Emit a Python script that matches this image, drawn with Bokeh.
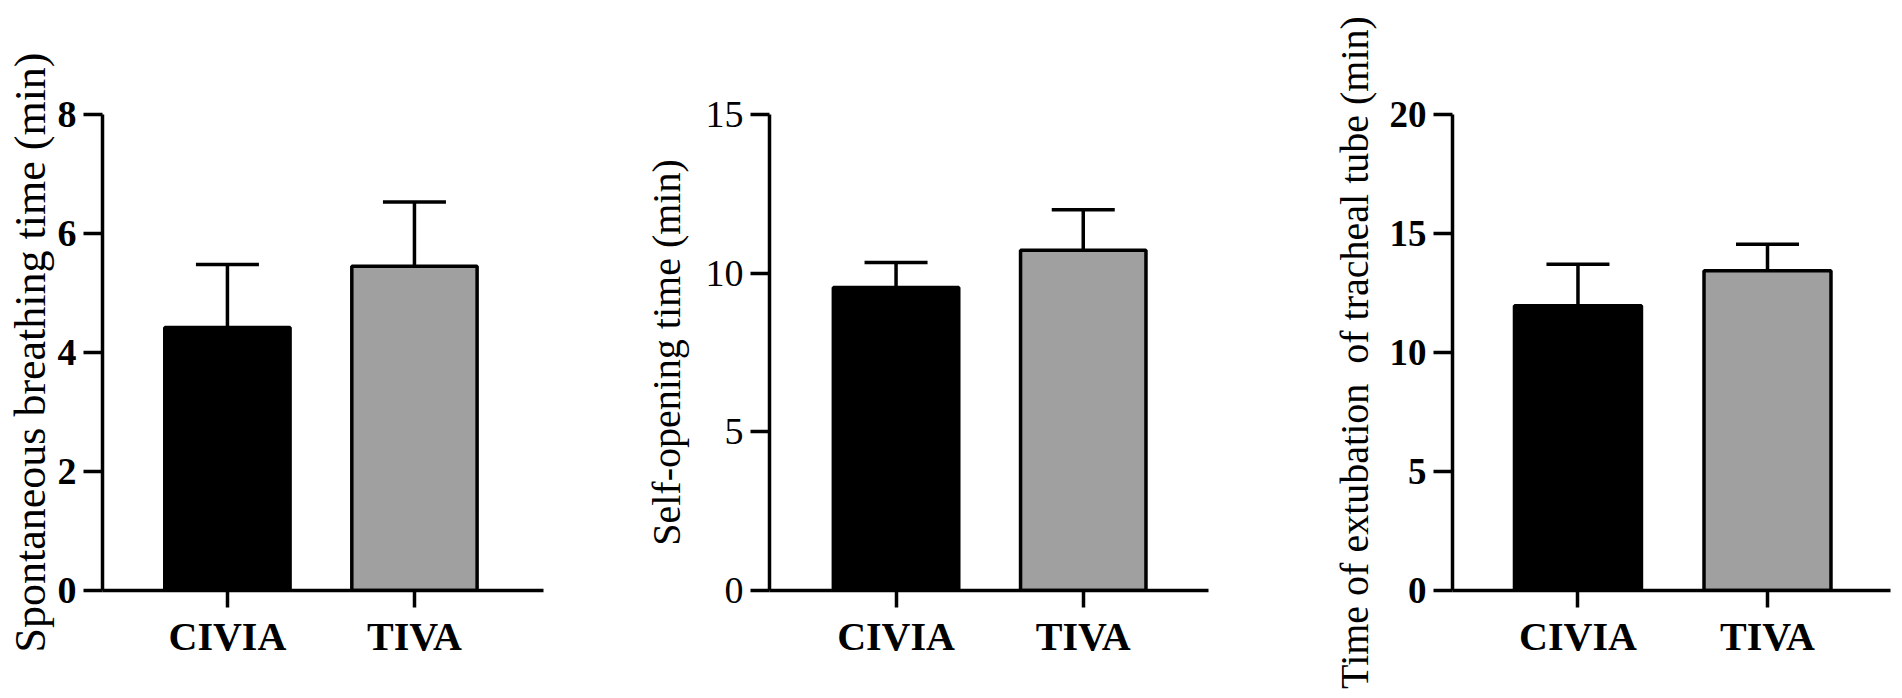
from bokeh.plotting import figure
from bokeh.layouts import row
from bokeh.models import Range1d, FixedTicker, ColumnDataSource, Whisker, TeeHead
from bokeh.embed import file_html
from bokeh.resources import INLINE

# ---- data ----
groups = ["CIVIA", "TIVA"]
bar_colors = ["#000000", "#a0a0a0"]

breath_mean = [4.42, 5.45]
breath_sd = [1.06, 1.08]

open_mean = [9.55, 10.72]
open_sd = [0.79, 1.28]

extub_mean = [11.96, 13.44]
extub_sd = [1.75, 1.11]

panels = [
    dict(mean=breath_mean, sd=breath_sd, ymax=8, yticks=[0, 2, 4, 6, 8],
         label="Spontaneous breathing time (min)", label_size="44px",
         tick_size="38px", tick_style="bold",
         width=640, bl=102, br=97, xr=(0.332, 2.690), lstand=0),
    dict(mean=open_mean, sd=open_sd, ymax=15, yticks=[0, 5, 10, 15],
         label="Self-opening time (min)", label_size="40px",
         tick_size="38px", tick_style="normal",
         width=660, bl=129, br=92, xr=(0.324, 2.669), lstand=14),
    dict(mean=extub_mean, sd=extub_sd, ymax=20, yticks=[0, 5, 10, 15, 20],
         label="Time of extubation \u00a0of tracheal tube (min)", label_size="40px",
         tick_size="37px", tick_style="bold",
         width=594, bl=152, br=4, xr=(0.338, 2.649), lstand=10),
]

FONT = "Liberation Serif"
figs = []
for pn in panels:
    xs = [1, 2]
    top = [m + s for m, s in zip(pn["mean"], pn["sd"])]
    src = ColumnDataSource(dict(x=xs, mean=pn["mean"], top=top, color=bar_colors))
    p = figure(width=pn["width"], height=690, output_backend="svg", toolbar_location=None,
               x_range=Range1d(*pn["xr"]), y_range=Range1d(0, pn["ymax"]),
               min_border_left=pn["bl"], min_border_right=pn["br"],
               min_border_top=114, min_border_bottom=100)
    p.outline_line_color = None
    p.xgrid.visible = False
    p.ygrid.visible = False
    p.background_fill_color = "white"
    p.border_fill_color = "white"

    p.vbar(x="x", top="mean", bottom=0, width=0.67, source=src,
           fill_color="color", line_color="black", line_width=3.5)
    w = Whisker(base="x", lower="mean", upper="top", source=src, dimension="height",
                line_color="black", line_width=3.5,
                upper_head=TeeHead(size=63, line_color="black", line_width=3.5),
                lower_head=None)
    p.add_layout(w)

    # x axis
    p.xaxis.ticker = FixedTicker(ticks=xs)
    p.xaxis.major_label_overrides = {1: groups[0], 2: groups[1]}
    p.xaxis.major_label_text_font = FONT
    p.xaxis.major_label_text_font_style = "bold"
    p.xaxis.major_label_text_font_size = "40px"
    p.xaxis.major_label_text_color = "black"
    p.xaxis.major_label_standoff = 6
    p.xaxis.major_tick_out = 17
    p.xaxis.major_tick_in = 0
    p.xaxis.minor_tick_line_color = None

    # y axis
    p.yaxis.ticker = FixedTicker(ticks=pn["yticks"])
    p.yaxis.major_label_text_font = FONT
    p.yaxis.major_label_text_font_style = pn["tick_style"]
    p.yaxis.major_label_text_font_size = pn["tick_size"]
    p.yaxis.major_label_text_color = "black"
    p.yaxis.major_label_standoff = 7
    p.yaxis.major_tick_out = 19
    p.yaxis.major_tick_in = 0
    p.yaxis.minor_tick_line_color = None
    p.yaxis.axis_label = pn["label"]
    p.yaxis.axis_label_text_font = FONT
    p.yaxis.axis_label_text_font_style = "normal"
    p.yaxis.axis_label_text_font_size = pn["label_size"]
    p.yaxis.axis_label_text_color = "black"
    p.yaxis.axis_label_standoff = pn["lstand"]

    for ax in (p.xaxis, p.yaxis):
        ax.axis_line_width = 3.5
        ax.axis_line_color = "black"
        ax.major_tick_line_width = 3.5
        ax.major_tick_line_color = "black"
    figs.append(p)

layout = row(*figs, spacing=0)
open("out.html", "w").write(file_html(layout, INLINE))
